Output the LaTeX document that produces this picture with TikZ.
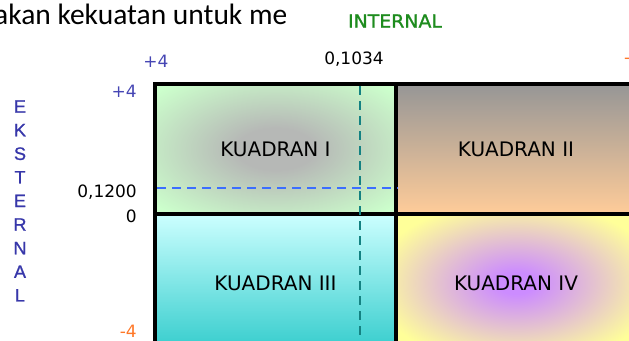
\documentclass[tikz,border=0pt]{standalone}
\usepackage{fontspec}
\newfontfamily\dv{DejaVu Sans}
\newfontfamily\dvw{DejaVu Sans}[FakeStretch=1.05,FakeBold=1.2]
\newfontfamily\lib{Liberation Sans}[FakeBold=1]
\newfontfamily\carl{Carlito}
\definecolor{q1in}{RGB}{182,184,182}
\definecolor{q1out}{RGB}{204,255,204}
\definecolor{q2top}{RGB}{150,150,150}
\definecolor{q2bot}{RGB}{255,204,153}
\definecolor{q3top}{RGB}{204,255,255}
\definecolor{q3bot}{RGB}{51,204,204}
\definecolor{q4in}{RGB}{204,140,255}
\definecolor{q4out}{RGB}{255,255,153}
\definecolor{axblue}{RGB}{70,70,180}
\definecolor{axorange}{RGB}{255,120,40}
\definecolor{intgreen}{RGB}{30,140,30}
\definecolor{eksblue}{RGB}{55,55,170}
\definecolor{dashteal}{RGB}{20,130,130}
\definecolor{dashblue}{RGB}{60,110,255}
\pgfdeclareradialshading{qone}{\pgfpoint{0bp}{0bp}}{color(0bp)=(q1in); color(8bp)=(q1in); color(33bp)=(q1out); color(50bp)=(q1out)}
\pgfdeclareradialshading{qfour}{\pgfpoint{0bp}{0bp}}{color(0bp)=(q4in); color(4bp)=(q4in); color(30bp)=(q4out); color(50bp)=(q4out)}
\tikzset{
  quad/.style={rectangle, inner sep=0pt, font=\dv\fontsize{20}{20}\selectfont, text=black},
  frame/.style={line width=3.5pt, black},
  axnum/.style={inner sep=0pt, font=\dv\fontsize{17}{17}\selectfont},
  ekslet/.style={inner sep=0pt, font=\lib\fontsize{18}{18}\selectfont, text=eksblue},
  tealdash/.style={dashteal, line width=2.5pt, dash pattern=on 9pt off 6pt},
  bluedash/.style={dashblue, line width=2pt, dash pattern=on 9pt off 6pt}
}
\begin{document}
\begin{tikzpicture}[x=1pt,y=-1pt]
\useasboundingbox (0,0) rectangle (629,340);
\clip (0,0) rectangle (629,340);
\fill[white] (0,0) rectangle (629,340);
% top-left text
\begin{scope}
\clip (0,0) rectangle (285,50);
\node[anchor=base west, inner sep=0pt, font=\carl\fontsize{29.5}{29.5}\selectfont] (toptext) at (-6,24) {akan kekuatan untuk me};
\end{scope}
% quadrants
\node[quad, shade, shading=qone, minimum width=241pt, minimum height=130pt] (q1) at (275.5,149) {KUADRAN I};
\node[quad, top color=q2top, bottom color=q2bot, minimum width=240pt, minimum height=130pt] (q2) at (516,149) {KUADRAN II};
\node[quad, top color=q3top, bottom color=q3bot, minimum width=241pt, minimum height=138pt] (q3) at (275.5,283) {KUADRAN III};
\node[quad, shade, shading=qfour, minimum width=240pt, minimum height=138pt] (q4) at (516,283) {KUADRAN IV};
% frame and dividers
\draw[frame] (q1.north west) rectangle (q4.south east);
\draw[frame] (q1.north east) -- (q3.south east);
\draw[frame] (q1.south west) -- (q2.south east);
% dashed lines
\coordinate (vtop) at (360,86);
\coordinate (vbot) at (360,345);
\coordinate (hleft) at (157,188);
\coordinate (hright) at (398,188);
\draw[tealdash] (vtop) -- (vbot);
\draw[bluedash] (hleft) -- (hright);
% axis labels
\node[axnum, text=axblue] (xplus) at (156,61) {+4};
\node[axnum] (xval) at (354,59) {0,1034};
\node[axnum, text=axorange, anchor=west] (xminus) at (624,61) {-};
\node[axnum, text=axblue, anchor=east] (yplus) at (137,91) {+4};
\node[axnum, anchor=east] (yval) at (137,192) {0,1200};
\node[axnum, anchor=east] (yzero) at (137,216) {0};
\node[axnum, text=axorange, anchor=east] (yminus) at (137,331) {-4};
\node[inner sep=0pt, font=\dvw\fontsize{18}{18}\selectfont, text=intgreen] (internal) at (395,21) {INTERNAL};
% EKSTERNAL
\foreach \l [count=\i from 0] in {E,K,S,T,E,R,N,A,L} {
  \node[ekslet] (eks\i) at (20,{106.5+23.6*\i}) {\l};
}
\end{tikzpicture}
\end{document}
